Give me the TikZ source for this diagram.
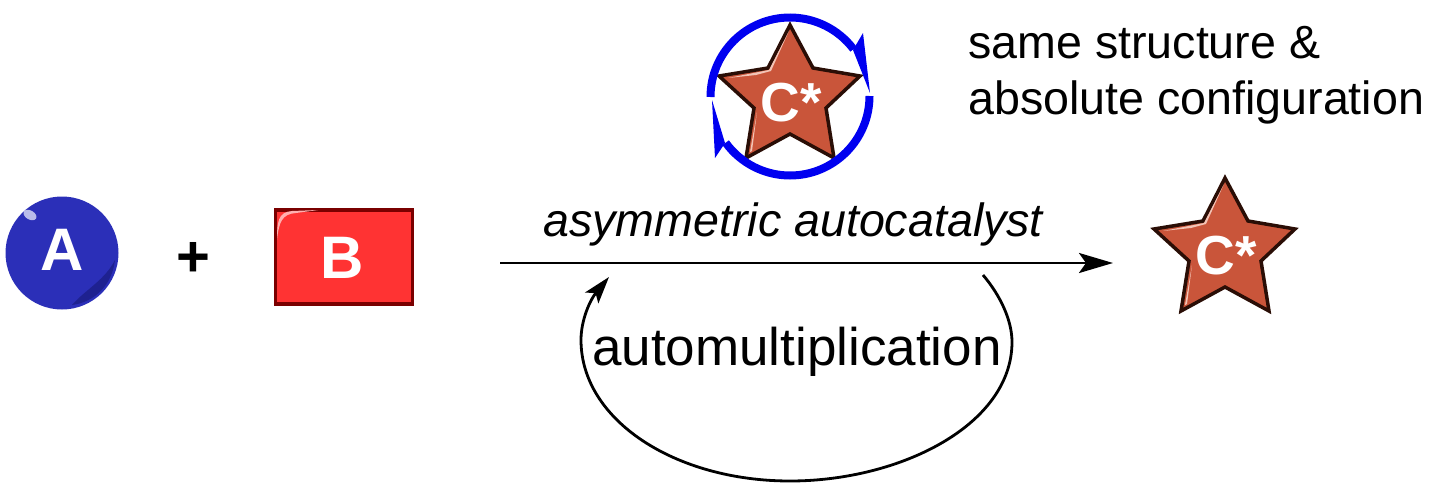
\documentclass[tikz,border=0pt]{standalone}
\usepackage{fontspec}
\setmainfont{Liberation Sans}
\usepackage{tikz}
\usetikzlibrary{arrows.meta,positioning}
\definecolor{ballblue}{HTML}{2B2FB8}
\definecolor{balldark}{HTML}{1E2190}
\definecolor{ballshine}{HTML}{B9BCEA}
\definecolor{boxred}{HTML}{FF3333}
\definecolor{boxedge}{HTML}{7A0000}
\definecolor{boxshine}{HTML}{FFB0B0}
\definecolor{starfill}{HTML}{C9553A}
\definecolor{staredge}{HTML}{2A0E06}
\definecolor{starshine}{HTML}{F2C4B6}
\definecolor{ringblue}{HTML}{0000F0}
\newcommand{\pxfont}[1]{\fontsize{#1}{#1}\selectfont}

\begin{document}
\begin{tikzpicture}[x=1pt,y=-1pt]

\tikzset{
  plain/.style={anchor=base west,inner sep=0pt,font=\pxfont{46.6}},
  inlabel/.style={inner sep=0pt,text=white,font=\pxfont{60}\bfseries},
  arc/.style={line width=2.8pt,black},
  ring/.style={line width=8pt,ringblue},
  starc/.pic={
    \draw[line width=3.5pt,line join=miter,miter limit=3,draw=staredge,fill=starfill]
      (0,-71) -- (23,-28) -- (70,-20) -- (36,12) -- (44,62)
      -- (0,38) -- (-44,62) -- (-36,12) -- (-71,-20) -- (-22,-28) -- cycle;
    \fill[starshine] (-1,-65) -- (-21,-26) -- (-62,-18) -- (-34,-21) -- (-19,-25) -- cycle;
    \fill[starshine] (-33,16) -- (-40,56) -- (-38,55) -- cycle;
    \node[anchor=base west,inner sep=0pt,text=white,font=\pxfont{55}\bfseries] (-label) at (-29.5,25) {C*};
  }
}

\useasboundingbox (0,0) rectangle (1438,490);

% reactant A
\node[circle,fill=ballblue,minimum size=113pt,inner sep=0pt] (ball) at (62,253) {};
\fill[balldark] (115,260) .. controls (112,285) and (95,302) .. (72,305)
  .. controls (85,290) and (105,280) .. (115,260);
\fill[ballshine,rotate around={-30:(30,215)}] (30,215) ellipse (7pt and 4.5pt);
\node[inlabel] (alabel) at (62,249.5) {A};

\node[inner sep=0pt,font=\pxfont{58}\bfseries] (plus) at (193,259) {+};

% reactant B
\node[rectangle,draw=boxedge,fill=boxred,line width=3.5pt,minimum width=137pt,minimum height=94pt,inner sep=0pt] (box) at (344,257) {};
\fill[boxshine] (277,240) .. controls (277,222) and (278,212) .. (292,211) -- (318,210) -- (296,213) .. controls (282,214) and (279,222) .. (277,240);
\node[inlabel] (blabel) at (342,258) {B};

% catalyst in its ring
\pic (topstar) at (790,96) {starc};
\coordinate (ringa) at (710.5,97);
\coordinate (ringc) at (869.5,96);
\draw[ring] (ringa) arc[start angle=180,end angle=323,radius=79.5];
\draw[ring] (ringc) arc[start angle=0,end angle=144,radius=79.5];
\fill[ringblue] (863,33) -- (853,50) -- (870,93) -- cycle;
\fill[ringblue] (725,143) -- (715,158) -- (712,100) -- cycle;

\node[plain] (samelabel) at (968,58) {same structure \&};
\node[plain] (abslabel) at (968,114) {absolute configuration};

% product
\pic (endstar) at (1225,249) {starc};

% reaction arrow
\coordinate (arrowstart) at (500,263);
\coordinate (arrowend) at (1113,263);
\draw[arc,-{Stealth[length=34pt,width=20pt,inset=7pt]}] (arrowstart) -- (arrowend);
\node[plain,font=\pxfont{46.6}\itshape] (catlabel) at (543,236) {asymmetric autocatalyst};

% loop below the arrow
\coordinate (loopstart) at (983,275);
\coordinate (loopend) at (609,277);
\draw[arc,-{Stealth[length=27pt,width=17pt,inset=6pt]}] (loopstart)
  .. controls (1000,295) and (1012,320) .. (1012,342)
  .. controls (1012,425) and (900,481) .. (790,481)
  .. controls (675,481) and (581,420) .. (581,340)
  .. controls (581,320) and (590,300) .. (loopend);
\node[plain,font=\pxfont{53}] (looplabel) at (592,365) {automultiplication};

\end{tikzpicture}
\end{document}
